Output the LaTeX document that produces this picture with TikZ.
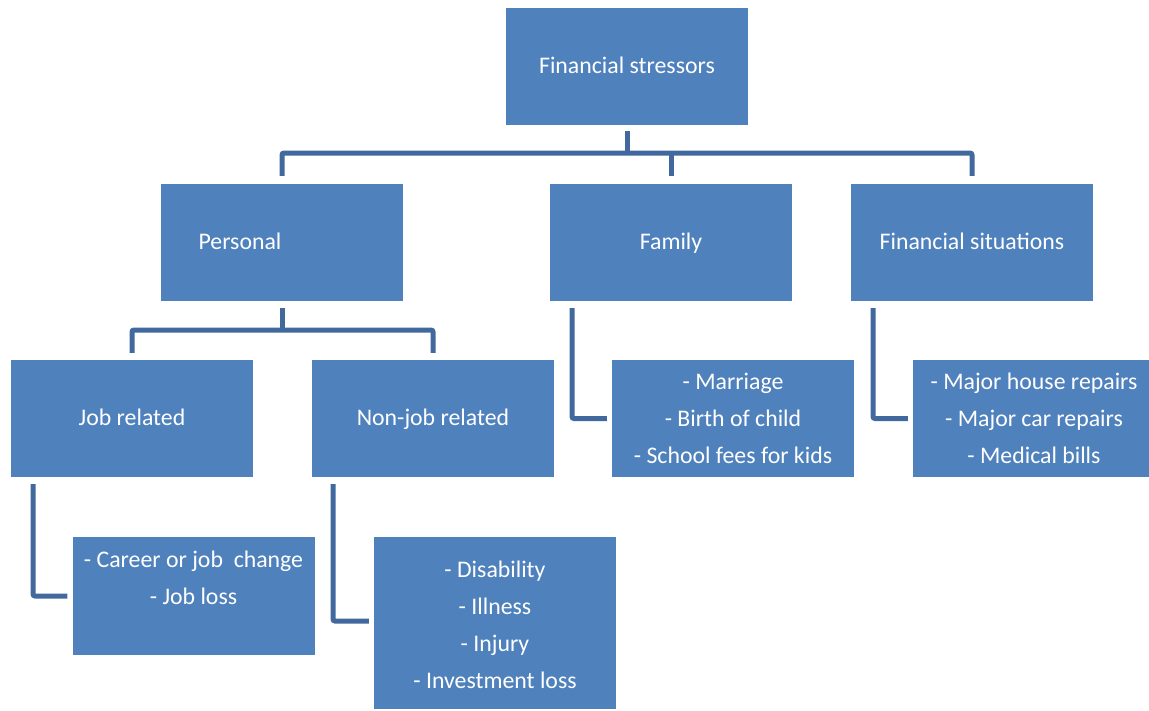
\documentclass[tikz,border=0pt]{standalone}
\usepackage{fontspec}
\setmainfont{Carlito}
\definecolor{boxblue}{HTML}{4F81BD}
\definecolor{lineblue}{HTML}{41699E}
\newcommand\firstlift[1]{\rule{0pt}{#1}}
\begin{document}
\begin{tikzpicture}[x=1pt,y=-1pt,
  box/.style={fill=boxblue, draw=none, minimum width=242pt, minimum height=117pt,
    inner sep=0pt, text=white, align=center, font=\fontsize{23.8}{37}\selectfont,
    execute at begin node={\strut}, execute at end node={\strut}},
  conn/.style={draw=lineblue, line width=5pt, rounded corners=2pt}]
\useasboundingbox (0,0) rectangle (1149,710);
\node[box] (top) at (627,66.5) {Financial stressors};
\node[box] (pers) at (282,242.5) {Personal\hspace*{84pt}};
\node[box] (fam) at (671,242.5) {Family};
\node[box] (fin) at (972,242.5) {Financial situations};
\node[box] (job) at (132,418.5) {Job related};
\node[box] (nonjob) at (433,418.5) {Non-job related};
\node[box] (famlist) at (733,418.5) {\firstlift{27pt}- Marriage\\- Birth of child\\- School fees for kids};
\node[box] (finlist) at (1034,418.5) {\firstlift{27pt}- Major house repairs\\- Major car repairs\\- Medical bills};
\node[box, minimum height=118pt] (career) at (193.5,596) {\firstlift{28pt}- Career or job\ \ change\\- Job loss\\\mbox{}};
\node[box, minimum height=172pt] (dis) at (495,623) {\firstlift{32pt}- Disability\\- Illness\\- Injury\\- Investment loss};
% top level connectors
\coordinate (b1) at (627,153);
\draw[conn] ([yshift=-6pt]top.south) -- (b1);
\draw[conn] ([yshift=8pt]pers.north) |- (b1) -| ([yshift=8pt]fin.north);
\draw[conn] (b1 -| fam.north) -- ([yshift=8pt]fam.north);
% personal
\coordinate (b2) at (282,330);
\draw[conn] ([yshift=-7pt]pers.south) -- (b2);
\draw[conn] ([yshift=7pt]job.north) |- (b2) -| ([yshift=7pt]nonjob.north);
% leaves
\draw[conn] ([xshift=-99pt,yshift=-7pt]job.south) |- ([xshift=-5pt]career.west);
\draw[conn] ([xshift=-100pt,yshift=-7pt]nonjob.south) |- ([xshift=-5pt,yshift=2pt]dis.west);
\draw[conn] ([xshift=-99pt,yshift=-7pt]fam.south) |- ([xshift=-5pt]famlist.west);
\draw[conn] ([xshift=-99pt,yshift=-7pt]fin.south) |- ([xshift=-5pt]finlist.west);
\end{tikzpicture}
\end{document}
